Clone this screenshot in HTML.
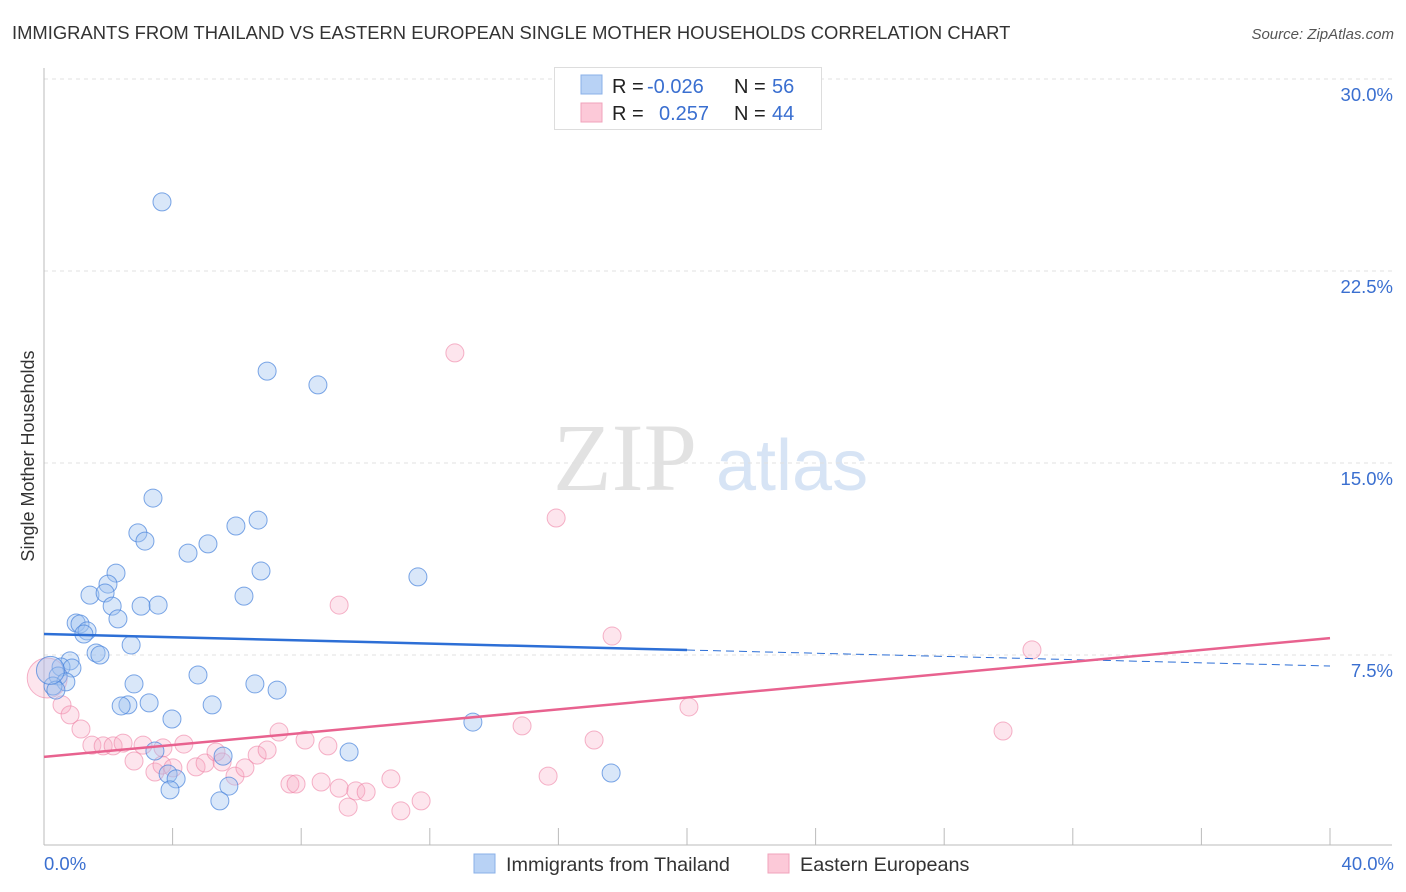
<!DOCTYPE html>
<html><head><meta charset="utf-8"><style>
body{margin:0;background:#fff;font-family:"Liberation Sans",sans-serif;}
svg{display:block}
</style></head><body>
<svg id="chart" width="1406" height="892" viewBox="0 0 1406 892" xmlns="http://www.w3.org/2000/svg">
<text x="12" y="39" font-size="18.4" fill="#333">IMMIGRANTS FROM THAILAND VS EASTERN EUROPEAN SINGLE MOTHER HOUSEHOLDS CORRELATION CHART</text>
<text x="1394" y="39" font-size="15" fill="#555" font-style="italic" text-anchor="end">Source: ZipAtlas.com</text>
<g>
<text x="553" y="490" font-size="96" fill="#e2e2e2" font-family="Liberation Serif,serif">ZIP</text>
<text x="716" y="490" font-size="72" fill="#d7e4f5">atlas</text>
</g>
<g id="grid"></g>
<g id="axes"></g>
<g id="marks"></g>
<g id="trends"></g>
<g>
<rect x="554.5" y="67.5" width="267" height="62" fill="#fff" stroke="#ddd"/>
<rect x="581" y="75" width="21" height="19" fill="#b8d2f5" stroke="#8ab0e8"/>
<rect x="581" y="103" width="21" height="19" fill="#fcc9d8" stroke="#f0a3bb"/>
<text x="612" y="93" font-size="20" fill="#222">R = <tspan fill="#3a6fd0" x="647">-0.026</tspan></text>
<text x="734" y="93" font-size="20" fill="#222">N = <tspan fill="#3a6fd0" x="772">56</tspan></text>
<text x="612" y="120" font-size="20" fill="#222">R = <tspan fill="#3a6fd0" x="659">0.257</tspan></text>
<text x="734" y="120" font-size="20" fill="#222">N = <tspan fill="#3a6fd0" x="772">44</tspan></text>
</g>
<text transform="translate(34,456) rotate(-90)" font-size="18" fill="#333" text-anchor="middle">Single Mother Households</text>
<g>
<rect x="474" y="854" width="21" height="19" fill="#b8d2f5" stroke="#8ab0e8"/>
<text x="506" y="871" font-size="19.8" fill="#333">Immigrants from Thailand</text>
<rect x="768" y="854" width="21" height="19" fill="#fcc9d8" stroke="#f0a3bb"/>
<text x="800" y="871" font-size="19.8" fill="#333">Eastern Europeans</text>
</g>
</svg>
<script>
const yTicks=[7.5,15,22.5,30];
const yTickLabels=["7.5%","15.0%","22.5%","30.0%"];
const xTicks=[0,4,8,12,16,20,24,28,32,36,40];
const xEndLabels=["0.0%","40.0%"];
const blueX=[3.67,6.94,8.52,3.39,2.92,3.14,6.66,5.97,5.10,4.48,2.24,6.75,11.63,1.99,1.43,1.90,6.22,2.12,3.02,3.55,2.30,1.00,1.12,1.34,1.24,2.71,1.62,1.74,0.81,0.53,0.87,0.44,0.68,0.28,0.37,4.79,6.56,7.25,2.80,3.27,2.61,2.40,5.23,3.98,13.34,3.45,5.57,9.49,3.86,4.11,17.64,3.92,5.75,5.47,0.2];
const blueY=[25.20,18.59,18.05,13.63,12.27,11.95,12.77,12.54,11.84,11.48,10.70,10.78,10.55,10.27,9.84,9.92,9.80,9.41,9.41,9.45,8.91,8.75,8.71,8.44,8.32,7.89,7.58,7.50,7.27,7.03,6.99,6.68,6.45,6.29,6.13,6.72,6.37,6.13,6.37,5.63,5.55,5.51,5.55,5.00,4.88,3.75,3.55,3.71,2.85,2.66,2.89,2.23,2.38,1.80,6.9];
const pinkX=[12.78,15.93,9.18,17.67,30.73,20.06,29.83,14.87,17.11,15.68,0.56,0.81,1.15,1.49,1.84,2.15,2.46,3.08,3.70,4.35,2.80,3.45,3.67,4.01,4.73,5.01,5.35,5.54,5.94,6.25,6.63,6.94,7.31,8.12,8.83,7.65,7.84,8.62,9.18,9.70,10.02,9.46,10.79,11.10,11.73,0.1];
const pinkY=[19.30,12.85,9.45,8.24,7.70,5.47,4.53,4.73,4.18,2.77,5.55,5.16,4.61,3.98,3.95,3.95,4.06,3.98,3.87,4.02,3.36,2.93,3.20,3.09,3.13,3.28,3.71,3.32,2.77,3.09,3.59,3.79,4.49,4.18,3.95,2.46,2.46,2.54,2.30,2.19,2.15,1.56,2.66,1.41,1.80,6.6];
const blueTrend=[8.32,7.07];
const pinkTrend=[3.52,8.16];
const NS="http://www.w3.org/2000/svg";
const X=v=>44+v*32.15, Y=v=>847-v*25.6;
function mk(tag,attrs,parent){const e=document.createElementNS(NS,tag);for(const k in attrs)e.setAttribute(k,attrs[k]);document.getElementById(parent).appendChild(e);return e;}
yTicks.forEach((t,i)=>{
 const g=mk('line',{x1:44,x2:1392,y1:Y(t),y2:Y(t),stroke:'#e0e0e0','stroke-dasharray':'4,4'},'grid');
 
 
 const l=mk('text',{x:1393,y:Y(t)+22,'font-size':18.5,fill:'#3a6fd0','text-anchor':'end'},'axes');
 l.textContent=yTickLabels[i];
 
 
});
const ya=mk('line',{x1:44,x2:44,y1:68,y2:845,stroke:'#bbb'},'axes');


const xa=mk('line',{x1:44,x2:1392,y1:845,y2:845,stroke:'#bbb'},'axes');


xTicks.forEach(t=>{
 const k=mk('line',{x1:X(t),x2:X(t),y1:828,y2:845,stroke:'#bbb'},'axes');
 
 
});
const l0=mk('text',{x:44,y:870,'font-size':18.5,fill:'#3a6fd0'},'axes');l0.textContent=xEndLabels[0];


const l1=mk('text',{x:1394,y:870,'font-size':18.5,fill:'#3a6fd0','text-anchor':'end'},'axes');l1.textContent=xEndLabels[1];


pinkX.forEach((v,i)=>{
 const big=i===pinkX.length-1;
 const c=mk('circle',{cx:X(v),cy:Y(pinkY[i]),r:big?20:9,fill:'rgba(248,170,195,0.3)',stroke:'rgba(238,130,165,0.6)','stroke-width':1},'marks');
 
 
});
blueX.forEach((v,i)=>{
 const big=i===blueX.length-1;
 const c=mk('circle',{cx:X(v),cy:Y(blueY[i]),r:big?14:9,fill:'rgba(160,195,240,0.4)',stroke:'rgba(70,130,220,0.7)','stroke-width':1},'marks');
 
 
});
const bAt=x=>blueTrend[0]+(blueTrend[1]-blueTrend[0])*x/40;
const pAt=x=>pinkTrend[0]+(pinkTrend[1]-pinkTrend[0])*x/40;
const t1=mk('line',{x1:X(0),y1:Y(bAt(0)),x2:X(20),y2:Y(bAt(20)),stroke:'#2d6fd6','stroke-width':2.5},'trends');


const t2=mk('line',{x1:X(20),y1:Y(bAt(20)),x2:X(40),y2:Y(bAt(40)),stroke:'#2d6fd6','stroke-width':1,'stroke-dasharray':'8,5'},'trends');


const t3=mk('line',{x1:X(0),y1:Y(pAt(0)),x2:X(40),y2:Y(pAt(40)),stroke:'#e8628f','stroke-width':2.5},'trends');


</script>
</body></html>
